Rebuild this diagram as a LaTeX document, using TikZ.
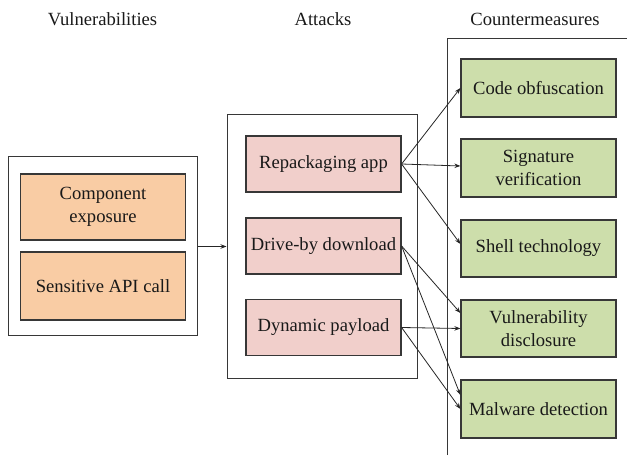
\documentclass[tikz,border=0pt]{standalone}
\usepackage{fontspec}
\setmainfont{Liberation Serif}
\usetikzlibrary{arrows.meta}
\definecolor{vulfill}{RGB}{249,204,164}
\definecolor{attfill}{RGB}{241,207,203}
\definecolor{cmfill}{RGB}{205,222,171}
\definecolor{edge}{RGB}{55,55,55}
\begin{document}
\begin{tikzpicture}[x=1pt,y=-1pt,
  every node/.style={font=\fontsize{18.6}{23}\selectfont, text=black!90},
  frame/.style={draw=edge, line width=1pt, fill=white, inner sep=0pt},
  vbox/.style={draw=edge, line width=1.2pt, fill=vulfill, inner sep=0pt, align=center, minimum width=165pt},
  abox/.style={draw=edge, line width=1.2pt, fill=attfill, inner sep=0pt, align=center, minimum width=155pt, minimum height=56pt},
  cbox/.style={draw=edge, line width=1.2pt, fill=cmfill, inner sep=0pt, align=center, minimum width=155pt, minimum height=57pt},
  title/.style={anchor=base, inner sep=0pt},
  conn/.style={draw=black!85, line width=0.8pt, -{Stealth[length=6pt,width=4.5pt]}}
]
\useasboundingbox (0,0) rectangle (627,457);
% titles
\node[title] (t1) at (102.5,26) {Vulnerabilities};
\node[title] (t2) at (323,26) {Attacks};
\node[title] (t3) at (535,26) {Countermeasures};
% countermeasures frame
\coordinate (fa) at (447,455);
\coordinate (fb) at (447,39);
\coordinate (fc) at (627,39);
\draw[draw=edge, line width=1pt] (fa) -- (fb) -- (fc);
% vulnerabilities
\node[frame, minimum width=189pt, minimum height=179pt] (vulbox) at (102.5,246.5) {};
\node[vbox, minimum height=66pt] (comp) at (103,207) {Component\\exposure};
\node[vbox, minimum height=68pt] (sens) at (103,286) {Sensitive API call};
% attacks
\node[frame, minimum width=190pt, minimum height=263pt] (attbox) at (322,246.5) {};
\node[abox] (rep) at (323.5,164) {Repackaging app};
\node[abox] (drv) at (323.5,246) {Drive-by download};
\node[abox] (dyn) at (323.5,327.5) {Dynamic payload};
% countermeasures
\node[cbox, minimum height=58pt] (code) at (538.5,88) {Code obfuscation};
\node[cbox, minimum height=58pt] (sig) at (538.5,168) {Signature\\verification};
\node[cbox] (shell) at (538.5,248.5) {Shell technology};
\node[cbox] (vuln) at (538.5,328.5) {Vulnerability\\disclosure};
\node[cbox, minimum height=58pt] (mal) at (538.5,409) {Malware detection};
% connectors
\draw[conn] (vulbox.east) -- (attbox.west);
\draw[conn] (rep.east) -- (code.west);
\draw[conn] (rep.east) -- ([yshift=2pt]sig.west);
\draw[conn] (rep.east) -- ([yshift=4.5pt]shell.west);
\draw[conn] (drv.east) -- ([yshift=15.5pt]vuln.west);
\draw[conn] (drv.east) -- ([yshift=14pt]mal.west);
\draw[conn] (dyn.east) -- (vuln.west);
\draw[conn] (dyn.east) -- (mal.west);
\end{tikzpicture}
\end{document}
